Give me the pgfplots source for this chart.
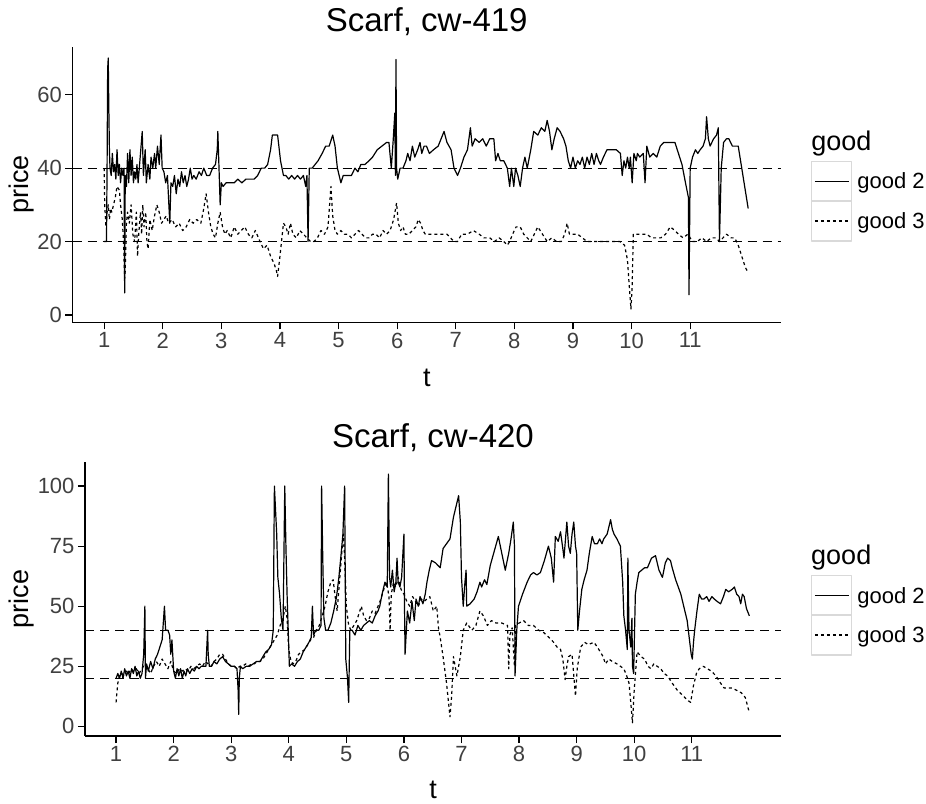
\documentclass[border=0pt]{standalone}
\usepackage{fontspec}
\setmainfont{Liberation Sans}
\usepackage{pgfplots}
\pgfplotsset{compat=1.18}

\newcommand{\tickfont}{\fontsize{22}{26}\selectfont}
\newcommand{\labfont}{\fontsize{27}{32}\selectfont}
\newcommand{\ttlfont}{\fontsize{33}{38}\selectfont}

\pgfplotsset{
  scarf/.style={
    scale only axis,
    anchor=south west,
    clip=false,
    xmin=0.46, xmax=12.55,
    xtick={1,2,3,4,5,6,7,8,9,10,11},
    axis x line*=bottom,
    axis y line*=left,
    axis line style={line width=1.2pt, black},
    tick style={line width=1.2pt, black},
    major tick length=7pt,
    tick align=outside,
    /pgf/number format/assume math mode=true,
    tick label style={font=\tickfont, text=black!75},
    xlabel={t},
    ylabel={price},
    legend style={draw=none, fill=none, inner sep=0pt, row sep=-2pt,
      column sep=5pt, nodes={inner sep=0pt}, font=\tickfont,
      cells={anchor=west}},
    legend image code/.code={
      \draw[gray!30, line width=1.2pt, solid] (0pt,-20pt) rectangle (40pt,20pt);
      \draw[#1] (3pt,0pt) -- (37pt,0pt);
    },
  },
  g2/.style={black, line width=1.2pt, line join=round},
  g3/.style={black, line width=1.2pt, line join=round, dash pattern=on 3pt off 3pt},
  ref/.style={black, line width=1.1pt, dash pattern=on 9pt off 6pt, forget plot},
}

\begin{document}
\begin{tikzpicture}
\useasboundingbox (0,0) rectangle (926pt,803pt);

% ---------- top panel ----------
\begin{axis}[
  scarf,
  at={(72.5pt,480.7pt)},
  width=708.5pt, height=275.3pt,
  ymin=-2, ymax=73,
  ytick={0,20,40,60},
  title={Scarf, cw-419},
  every axis title/.style={at={(axis description cs:0.5,1.091)}, anchor=center, font=\ttlfont},
  every axis x label/.style={at={(axis description cs:0.5,-0.203)}, anchor=center, font=\labfont},
  every axis y label/.style={at={(axis description cs:-0.072,0.5)}, anchor=center, rotate=90, font=\labfont},
  legend style={at={(axis description cs:1.0424,0.586)}, anchor=north west},
]
\addplot[g2] coordinates {
(1.00,20) (1.04,20) (1.05,40) (1.06,67) (1.07,70) (1.08,56) (1.09,45) (1.10,40) (1.12,38) (1.14,44)
(1.16,39) (1.18,41) (1.20,37) (1.22,45) (1.24,38) (1.26,41) (1.28,36) (1.30,40) (1.32,38) (1.34,40)
(1.35,6) (1.36,38) (1.38,35) (1.40,44) (1.42,36) (1.44,45) (1.46,38) (1.48,43) (1.50,36) (1.52,39)
(1.54,37) (1.56,41) (1.58,36) (1.62,44) (1.65,50) (1.67,38) (1.70,45) (1.72,36) (1.75,41) (1.78,37)
(1.80,43) (1.83,40) (1.86,44) (1.88,40) (1.91,46) (1.94,41) (1.97,49) (1.99,40) (2.02,39) (2.05,36)
(2.08,38) (2.12,25) (2.14,36) (2.17,35) (2.20,38) (2.23,33) (2.26,37) (2.29,35) (2.32,39) (2.35,36)
(2.38,38) (2.41,35) (2.44,37) (2.47,40) (2.50,37) (2.53,38) (2.57,37) (2.62,39) (2.66,38) (2.70,40)
(2.75,38) (2.80,38) (2.85,40) (2.90,41) (2.93,45) (2.94,50) (2.96,40) (2.98,30) (3.00,36) (3.03,35)
(3.08,36) (3.15,36) (3.22,36) (3.28,37) (3.35,36) (3.42,37) (3.50,37) (3.56,37) (3.62,38) (3.68,40)
(3.74,40) (3.79,41) (3.84,45) (3.87,49) (3.96,49) (4.01,42) (4.06,38) (4.10,38) (4.15,37) (4.20,38)
(4.25,37) (4.30,38) (4.35,37) (4.40,38) (4.44,35) (4.46,38) (4.48,20) (4.50,40) (4.55,40) (4.60,41)
(4.65,42) (4.72,44) (4.78,46) (4.84,46) (4.90,49) (4.94,46) (4.98,40) (5.04,36) (5.08,38) (5.15,38)
(5.22,38) (5.28,40) (5.33,39) (5.38,41) (5.45,41) (5.52,42) (5.58,43) (5.66,45) (5.74,46) (5.82,47)
(5.86,47) (5.90,40) (5.93,47) (5.96,55) (5.97,38) (5.98,69.6) (5.99,40) (6.01,37) (6.05,40) (6.10,40)
(6.15,42) (6.18,44) (6.22,42) (6.26,46) (6.30,43) (6.35,45) (6.39,47) (6.42,44) (6.46,46) (6.50,46)
(6.55,44) (6.62,45) (6.70,46) (6.80,50) (6.85,47) (6.92,45) (6.97,40) (7.03,38) (7.08,40) (7.14,43)
(7.20,45) (7.25,51) (7.28,46) (7.33,48) (7.40,47) (7.46,48) (7.52,46) (7.58,48) (7.65,48) (7.68,42)
(7.72,44) (7.76,42) (7.82,42) (7.88,40) (7.92,35) (7.95,40) (7.99,35) (8.02,40) (8.06,38) (8.10,35)
(8.14,40) (8.18,43) (8.22,40) (8.28,45) (8.33,50) (8.40,49) (8.46,51) (8.52,50) (8.56,53) (8.60,50)
(8.64,45) (8.68,48) (8.73,51) (8.78,50) (8.84,48) (8.88,46) (8.92,42) (8.96,40) (9.00,43) (9.04,40)
(9.08,42) (9.12,41) (9.16,43) (9.20,40) (9.24,43) (9.28,41) (9.32,44) (9.36,41) (9.40,44) (9.44,42)
(9.47,41) (9.52,43) (9.58,45) (9.66,45) (9.74,45) (9.81,44) (9.84,38) (9.87,42) (9.90,40) (9.93,43)
(9.96,40) (9.98,43) (10.01,36) (10.04,44) (10.08,42) (10.10,44) (10.14,43) (10.20,44) (10.23,36) (10.26,46)
(10.31,43) (10.37,44) (10.43,43) (10.49,46) (10.55,47) (10.65,47) (10.74,47) (10.80,44) (10.86,41) (10.92,36)
(10.97,32) (10.98,5.5) (11.00,40) (11.04,43) (11.09,45) (11.13,44) (11.17,45) (11.22,46) (11.26,48) (11.28,54)
(11.31,48) (11.34,46) (11.40,48) (11.45,49) (11.48,51) (11.50,20) (11.53,40) (11.57,47) (11.62,48) (11.66,48)
(11.72,46) (11.78,46) (11.82,46) (11.88,40) (11.94,34) (11.99,29)
};
\addlegendentry{good 2}
\addplot[g3] coordinates {
(1.00,40) (1.01,30) (1.03,24) (1.05,28) (1.07,30) (1.09,26) (1.11,29) (1.13,28) (1.16,30) (1.19,32)
(1.22,35) (1.26,34) (1.28,30) (1.31,26) (1.33,20) (1.35,10) (1.36,12) (1.38,25) (1.40,28) (1.43,25)
(1.46,30) (1.49,22) (1.52,20) (1.55,28) (1.57,16) (1.59,22) (1.62,28) (1.64,22) (1.66,30) (1.68,24)
(1.71,28) (1.73,20) (1.75,18) (1.78,26) (1.82,23) (1.86,27) (1.90,30) (1.94,28) (1.98,25) (2.02,26)
(2.06,27) (2.10,25) (2.16,26) (2.22,24) (2.28,25) (2.34,23) (2.40,24) (2.46,26) (2.52,25) (2.58,26)
(2.65,25) (2.70,29) (2.74,33) (2.78,28) (2.82,24) (2.86,22) (2.90,21) (2.94,25) (2.98,28) (3.02,24)
(3.06,22) (3.10,23) (3.16,21) (3.22,24) (3.28,22) (3.34,23) (3.40,24) (3.46,22) (3.52,21) (3.58,23)
(3.66,20) (3.72,18) (3.78,19) (3.84,16) (3.90,14) (3.94,12) (3.96,10.5) (4.00,16) (4.06,25) (4.10,24)
(4.14,22) (4.18,25) (4.22,22) (4.28,21) (4.34,23) (4.40,22) (4.46,21) (4.52,20) (4.58,20) (4.64,21)
(4.70,23) (4.76,22) (4.82,24) (4.87,35) (4.90,27) (4.94,23) (4.98,22) (5.04,23) (5.10,22) (5.16,22)
(5.22,21) (5.28,22) (5.34,23) (5.40,22) (5.46,21) (5.52,21) (5.58,22) (5.64,22) (5.70,21) (5.76,23)
(5.82,22) (5.88,23) (5.94,26) (5.99,30.5) (6.02,25) (6.06,23) (6.10,24) (6.14,22) (6.20,22) (6.26,23)
(6.32,24) (6.36,26) (6.40,25) (6.44,23) (6.48,22) (6.55,22) (6.65,22) (6.75,22) (6.85,22) (6.97,20)
(7.03,20) (7.10,22) (7.20,22) (7.30,23) (7.40,22) (7.48,21) (7.58,21) (7.66,20) (7.74,21) (7.82,20)
(7.88,19) (7.92,20) (7.97,22) (8.03,24) (8.10,24) (8.16,22) (8.22,21) (8.28,20) (8.34,22) (8.40,24)
(8.48,22) (8.56,20) (8.64,21) (8.72,20) (8.80,20) (8.86,22) (8.90,25) (8.94,22) (9.00,22) (9.08,22)
(9.16,21) (9.24,20) (9.32,20) (9.40,20) (9.50,20) (9.60,20) (9.70,20) (9.80,20) (9.88,19) (9.93,15)
(9.96,8) (9.99,1.6) (10.01,8) (10.03,22) (10.10,22) (10.18,22) (10.26,22) (10.34,21) (10.42,21) (10.50,21)
(10.58,22) (10.66,24) (10.74,23) (10.80,22) (10.88,21) (10.96,22) (11.04,20) (11.12,20) (11.20,21) (11.28,20)
(11.36,21) (11.44,21) (11.50,20) (11.56,21) (11.62,22) (11.70,21) (11.76,21) (11.82,19) (11.88,16) (11.94,13)
(11.99,11.5)
};
\addlegendentry{good 3}
\addplot[ref] coordinates {(0.46,40) (12.55,40)};
\addplot[ref] coordinates {(0.46,20) (12.55,20)};
\node[anchor=west, font=\labfont, inner sep=0pt] at (axis description cs:1.0424,0.649) {good};
\end{axis}

% ---------- bottom panel ----------
\begin{axis}[
  scarf,
  at={(85pt,67pt)},
  width=696pt, height=274pt,
  ymin=-4, ymax=110,
  ytick={0,25,50,75,100},
  title={Scarf, cw-420},
  every axis title/.style={at={(axis description cs:0.5,1.0876)}, anchor=center, font=\ttlfont},
  every axis x label/.style={at={(axis description cs:0.5,-0.197)}, anchor=center, font=\labfont},
  every axis y label/.style={at={(axis description cs:-0.0912,0.5)}, anchor=center, rotate=90, font=\labfont},
  legend style={at={(axis description cs:1.0431,0.5876)}, anchor=north west},
]
\addplot[g2] coordinates {
(1.00,20) (1.03,22) (1.06,20) (1.09,23) (1.12,20) (1.15,24) (1.18,21) (1.21,23) (1.24,20) (1.27,24)
(1.30,22) (1.33,25) (1.36,21) (1.39,23) (1.42,20) (1.45,22) (1.48,30) (1.50,50) (1.51,20) (1.53,26)
(1.56,23) (1.60,27) (1.64,24) (1.68,28) (1.72,30) (1.76,33) (1.80,36) (1.84,50) (1.86,40) (1.90,40)
(1.93,38) (1.95,30) (1.97,36) (2.00,23) (2.03,20) (2.06,24) (2.09,21) (2.12,24) (2.15,20) (2.18,23)
(2.21,21) (2.24,24) (2.28,22) (2.32,24) (2.36,23) (2.40,25) (2.44,24) (2.48,25) (2.52,25) (2.56,25)
(2.59,40) (2.60,30) (2.62,25) (2.66,25) (2.70,27) (2.75,26) (2.80,28) (2.85,29) (2.90,27) (2.95,26)
(3.00,25) (3.06,25) (3.10,24) (3.12,15) (3.13,5) (3.14,20) (3.16,25) (3.20,24) (3.26,25) (3.32,25)
(3.38,26) (3.44,27) (3.50,27) (3.55,29) (3.60,31) (3.65,32) (3.70,34) (3.73,40) (3.75,100) (3.77,90)
(3.79,80) (3.81,62) (3.84,55) (3.87,45) (3.90,40) (3.93,100) (3.95,75) (3.97,55) (3.99,40) (4.01,25)
(4.05,26) (4.10,25) (4.15,27) (4.20,28) (4.25,31) (4.30,33) (4.35,35) (4.39,37) (4.41,50) (4.43,38)
(4.47,40) (4.52,40) (4.56,42) (4.57,100) (4.59,70) (4.61,45) (4.64,40) (4.68,40) (4.73,43) (4.78,48)
(4.83,54) (4.87,62) (4.91,72) (4.94,80) (4.97,100) (4.99,28) (5.02,20) (5.04,10) (5.06,40) (5.10,40)
(5.15,38) (5.20,42) (5.25,40) (5.30,42) (5.35,43) (5.40,44) (5.45,43) (5.50,46) (5.55,48) (5.58,50)
(5.62,55) (5.67,60) (5.71,58) (5.73,105) (5.75,62) (5.77,58) (5.80,65) (5.83,56) (5.86,60) (5.88,70)
(5.90,60) (5.93,58) (5.96,62) (6.00,80) (6.01,50) (6.02,30) (6.06,48) (6.10,43) (6.14,52) (6.18,44)
(6.21,53) (6.25,50) (6.28,54) (6.33,51) (6.37,55) (6.40,60) (6.44,65) (6.48,69) (6.55,68) (6.63,66)
(6.68,74) (6.74,76) (6.80,78) (6.86,87) (6.91,92) (6.95,96) (6.98,85) (7.00,62) (7.03,50) (7.06,60)
(7.08,65) (7.09,50) (7.15,51) (7.22,53) (7.27,56) (7.32,60) (7.35,58) (7.40,61) (7.44,59) (7.50,67)
(7.57,73) (7.64,79) (7.70,72) (7.76,65) (7.82,72) (7.86,78) (7.90,85) (7.92,75) (7.93,21) (7.96,40)
(7.99,50) (8.06,55) (8.14,60) (8.20,63) (8.25,64) (8.31,63) (8.37,64) (8.44,69) (8.51,75) (8.56,70)
(8.60,60) (8.63,79) (8.68,77) (8.72,81) (8.76,74) (8.78,70) (8.83,85) (8.86,75) (8.89,72) (8.92,80)
(8.95,85) (8.98,75) (9.00,72) (9.02,40) (9.05,48) (9.09,57) (9.13,61) (9.18,65) (9.22,72) (9.27,79)
(9.31,76) (9.36,76) (9.40,78) (9.44,76) (9.47,78) (9.53,80) (9.59,86) (9.62,82) (9.65,80) (9.70,78)
(9.76,75) (9.80,60) (9.82,46) (9.85,40) (9.88,32) (9.89,70) (9.91,40) (9.94,33) (9.96,45) (9.97,25)
(9.99,22) (10.02,55) (10.05,60) (10.08,64) (10.13,65) (10.18,66) (10.23,66) (10.30,70) (10.37,71) (10.43,65)
(10.49,62) (10.54,68) (10.58,70) (10.63,69) (10.66,66) (10.72,61) (10.81,55) (10.86,50) (10.92,44) (10.96,36)
(10.99,30) (11.01,28) (11.03,35) (11.05,40) (11.09,48) (11.13,55) (11.17,53) (11.21,53) (11.26,54) (11.30,52)
(11.35,54) (11.39,53) (11.44,52) (11.50,51) (11.55,54) (11.59,57) (11.64,56) (11.70,57) (11.74,58) (11.78,55)
(11.82,54) (11.85,51) (11.88,55) (11.91,54) (11.95,49) (12.00,46)
};
\addlegendentry{good 2}
\addplot[g3] coordinates {
(1.00,10) (1.01,13) (1.03,18) (1.06,21) (1.10,22) (1.14,21) (1.18,23) (1.22,22) (1.26,24) (1.30,23)
(1.35,24) (1.40,22) (1.45,24) (1.50,26) (1.55,24) (1.60,22) (1.65,25) (1.70,27) (1.75,25) (1.80,28)
(1.85,26) (1.90,24) (1.95,27) (2.00,23) (2.05,22) (2.10,24) (2.15,23) (2.20,24) (2.25,23) (2.30,25)
(2.35,24) (2.40,25) (2.45,26) (2.50,25) (2.55,27) (2.60,26) (2.65,25) (2.70,27) (2.75,28) (2.80,30)
(2.85,30) (2.90,28) (2.95,26) (3.00,25) (3.05,25) (3.10,24) (3.15,25) (3.20,25) (3.25,26) (3.30,25)
(3.35,26) (3.40,26) (3.45,27) (3.50,27) (3.55,28) (3.60,30) (3.65,32) (3.70,34) (3.75,36) (3.80,38)
(3.85,42) (3.90,45) (3.94,50) (3.97,45) (4.00,32) (4.03,28) (4.07,26) (4.12,27) (4.17,30) (4.22,31)
(4.28,32) (4.33,34) (4.38,36) (4.43,37) (4.48,40) (4.53,42) (4.58,46) (4.63,50) (4.68,56) (4.73,60)
(4.77,61) (4.80,55) (4.84,48) (4.88,60) (4.92,72) (4.95,80) (4.97,70) (5.00,50) (5.04,42) (5.08,40)
(5.13,42) (5.18,44) (5.22,47) (5.26,50) (5.30,46) (5.35,44) (5.40,45) (5.45,48) (5.50,47) (5.55,50)
(5.60,53) (5.65,57) (5.70,60) (5.74,54) (5.76,40) (5.78,55) (5.82,60) (5.86,58) (5.90,62) (5.95,57)
(6.00,55) (6.05,52) (6.10,50) (6.15,54) (6.20,52) (6.25,50) (6.30,53) (6.35,52) (6.40,53) (6.45,54)
(6.51,48) (6.57,50) (6.60,41) (6.63,37) (6.68,29) (6.74,18) (6.80,4) (6.83,13) (6.86,29) (6.92,21)
(6.98,29) (7.03,40) (7.09,43) (7.18,40) (7.25,42) (7.32,48) (7.38,46) (7.45,42) (7.52,44) (7.60,43)
(7.70,43) (7.80,42) (7.82,24) (7.84,38) (7.88,41) (7.92,25) (7.94,42) (8.00,43) (8.08,44) (8.16,42)
(8.25,42) (8.34,40) (8.43,39) (8.52,37) (8.60,35) (8.66,33) (8.72,32) (8.76,28) (8.80,19.5) (8.83,25)
(8.86,29) (8.92,30) (8.98,12.6) (9.01,24) (9.07,33) (9.14,35) (9.20,34) (9.30,35) (9.36,33) (9.41,31)
(9.46,29) (9.50,26) (9.56,28) (9.62,27) (9.70,26) (9.76,25) (9.82,24) (9.87,21) (9.91,18) (9.94,10)
(9.97,1.5) (10.00,15) (10.05,31) (10.12,29) (10.18,28) (10.24,25) (10.29,24) (10.34,26) (10.40,25) (10.46,24)
(10.52,22) (10.58,21) (10.66,18) (10.75,15) (10.84,13) (10.92,11) (10.98,10) (11.03,17) (11.08,22) (11.13,24)
(11.20,25) (11.27,24) (11.34,23) (11.42,21) (11.50,18) (11.56,16) (11.62,16) (11.70,16) (11.78,15) (11.86,14)
(11.93,12) (12.00,5.7)
};
\addlegendentry{good 3}
\addplot[ref] coordinates {(0.46,40) (12.55,40)};
\addplot[ref] coordinates {(0.46,20) (12.55,20)};
\node[anchor=west, font=\labfont, inner sep=0pt] at (axis description cs:1.0431,0.653) {good};
\end{axis}
\end{tikzpicture}
\end{document}
